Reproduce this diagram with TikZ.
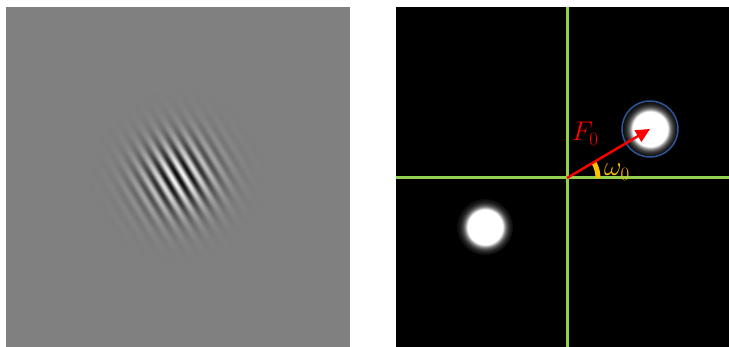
\documentclass[tikz,border=0pt]{standalone}
\usepackage{fix-cm}
\usetikzlibrary{arrows.meta,fadings,calc}
\definecolor{panelgray}{RGB}{128,128,128}
\definecolor{axisgreen}{RGB}{146,208,80}
\definecolor{arrowred}{RGB}{255,0,0}
\definecolor{anglegold}{RGB}{255,192,0}
\definecolor{ringblue}{RGB}{47,85,151}
% ---- stripe shading (cosine grating) ----
\def\gbrspec{color(0bp)=(black)}
\foreach \k in {1,...,336}{%
  \pgfmathsetmacro\gpos{\k*0.297619}%
  \pgfmathsetmacro\gval{50-50*cos(mod(\k,8)*45)}%
  \xdef\gbrspec{\gbrspec; color(\gpos bp)=(white!\gval!black)}%
}
\edef\gbrdecl{\noexpand\pgfdeclarehorizontalshading{gaborshade}{100bp}{\gbrspec}}
\gbrdecl
% ---- gaussian envelope fading ----
\def\gfadespec{}
\foreach \k in {0,...,50}{%
  \pgfmathsetmacro\fpos{\k*0.5}%
  \pgfmathsetmacro\fval{100*exp(-(\k*2.4)*(\k*2.4)/1250)}%
  \xdef\gfadespec{\gfadespec color(\fpos bp)=(white!\fval!black);}%
}
\edef\gfadedecl{\noexpand\pgfdeclareradialshading{gbrfadeshade}{\noexpand\pgfpointorigin}{\gfadespec color(50bp)=(black)}}
\gfadedecl
\pgfdeclarefading{gbrfade}{\pgfuseshading{gbrfadeshade}}
% ---- bright spectral blob ----
\def\blobspec{}
\foreach \k in {0,...,50}{%
  \pgfmathsetmacro\bpos{\k*0.5}%
  \pgfmathsetmacro\bval{min(100,800*exp(-(\k*0.56)*(\k*0.56)/150))}%
  \xdef\blobspec{\blobspec color(\bpos bp)=(white!\bval!black);}%
}
\edef\blobdecl{\noexpand\pgfdeclareradialshading{blobshade}{\noexpand\pgfpointorigin}{\blobspec color(50bp)=(black)}}
\blobdecl
\tikzset{
  axisline/.style={draw=axisgreen, line width=3pt},
  vecarrow/.style={draw=arrowred, line width=2.4pt, -{Triangle[length=14pt,width=13pt]}},
  anglearc/.style={draw=anglegold, line width=5pt},
  ring/.style={circle, draw=ringblue, line width=1.5pt, minimum size=56pt, inner sep=0pt},
  lbl/.style={inner sep=0pt, anchor=base west, font=\fontsize{27}{31}\selectfont},
}
\begin{document}
\begin{tikzpicture}[x=1pt,y=-1pt]
\useasboundingbox (0,0) rectangle (729,347);
\fill[white] (0,0) rectangle (729,347);
% left panel: Gabor patch
\fill[panelgray] (6,7) rectangle (350,347);
\begin{scope}
  \clip (6,7) rectangle (350,347);
  \begin{scope}[transform canvas={shift={(178,177)},rotate=31}]
    \shade[shading=gaborshade, path fading=gbrfade] (-120,-120) rectangle (120,120);
  \end{scope}
\end{scope}
% right panel: spectrum
\fill[black] (396,7) rectangle (729,347);
\coordinate (o) at (567,178);
\coordinate (lb) at (485,227);
\coordinate (vt) at (567,7);
\coordinate (vb) at (567,347);
\coordinate (hl) at (396,178);
\coordinate (hr) at (729,178);
\shade[shading=blobshade] (lb) circle (28);
\shade[shading=blobshade] (650,129) circle (28);
\draw[axisline] (vt) -- (vb);
\draw[axisline] (hl) -- (hr);
\node[ring] (ub) at (650,129) {};
\draw[anglearc] ($(o)+(31,0)$) arc[start angle=0, end angle=-29, radius=31];
\draw[vecarrow] (o) -- (ub.center);
\node[lbl, text=arrowred] (f0) at (572,141) {$F_0$};
\node[lbl, text=anglegold] (w0) at (604,176) {$\omega_0$};
\end{tikzpicture}
\end{document}
